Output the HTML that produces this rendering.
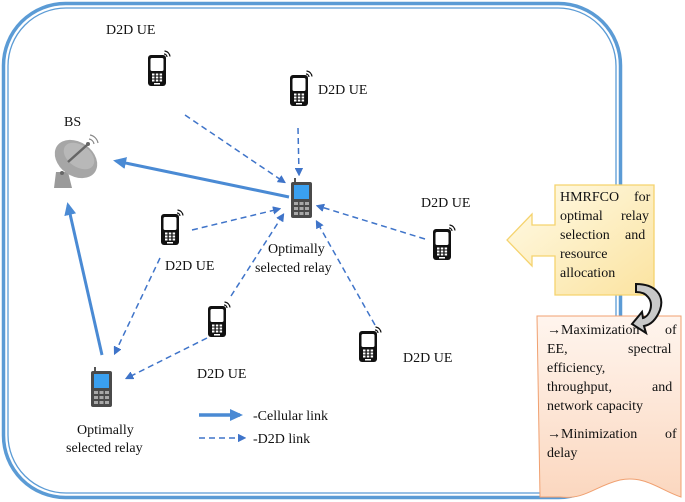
<!DOCTYPE html>
<html><head><meta charset="utf-8"><style>
html,body{margin:0;padding:0;background:#fff}
svg{display:block}
text{font-family:"Liberation Serif",serif;fill:#111}
</style></head><body>
<svg width="685" height="502" viewBox="0 0 685 502" xmlns="http://www.w3.org/2000/svg">
<defs>
<marker id="ad" markerWidth="8" markerHeight="8" refX="6" refY="4" orient="auto" markerUnits="userSpaceOnUse"><path d="M0,0 L8,4 L0,8 Z" fill="#3f74c9" transform="scale(1.2) translate(-1,-0.7)"/></marker>
<marker id="as" markerWidth="14" markerHeight="14" refX="10" refY="7" orient="auto" markerUnits="userSpaceOnUse"><path d="M0,1 L13,7 L0,13 Z" fill="#4a8ad4"/></marker>
<g id="ph">
<rect x="0" y="3" width="18" height="31" rx="3" fill="#111"/>
<rect x="2.5" y="6" width="13" height="13" rx="1.5" fill="#fff"/>
<g fill="#fff"><rect x="4" y="21.5" width="2.5" height="2"/><rect x="7.8" y="21.5" width="2.5" height="2"/><rect x="11.6" y="21.5" width="2.5" height="2"/>
<rect x="4" y="24.5" width="2.5" height="2"/><rect x="7.8" y="24.5" width="2.5" height="2"/><rect x="11.6" y="24.5" width="2.5" height="2"/>
<rect x="4" y="27.5" width="2.5" height="2"/><rect x="7.8" y="27.5" width="2.5" height="2"/><rect x="11.6" y="27.5" width="2.5" height="2"/>
<rect x="6" y="31" width="6" height="1.5"/></g>
<path d="M16,2 A3,3 0 0 1 19,5 M16.5,-1 A6,6 0 0 1 22,4.5" stroke="#111" stroke-width="1.2" fill="none"/>
</g>
<g id="rl">
<rect x="3" y="-3" width="2" height="5" fill="#555"/>
<rect x="0" y="1" width="21" height="36" rx="2" fill="#4a4a4a"/>
<rect x="3" y="4" width="15" height="14" fill="#3aa0f0"/>
<g fill="#a8a8a8"><rect x="3" y="21" width="4" height="3"/><rect x="8.5" y="21" width="4" height="3"/><rect x="14" y="21" width="4" height="3"/>
<rect x="3" y="26" width="4" height="3"/><rect x="8.5" y="26" width="4" height="3"/><rect x="14" y="26" width="4" height="3"/>
<rect x="3" y="31" width="4" height="3"/><rect x="8.5" y="31" width="4" height="3"/><rect x="14" y="31" width="4" height="3"/></g>
</g>
<linearGradient id="yg" x1="0" y1="0" x2="1" y2="1"><stop offset="0" stop-color="#fffbe8"/><stop offset="1" stop-color="#fbe3a0"/></linearGradient>
<linearGradient id="og" x1="0" y1="0" x2="0" y2="1"><stop offset="0" stop-color="#fff5ee"/><stop offset="1" stop-color="#fbd7bf"/></linearGradient>
</defs>
<!-- frame -->
<rect x="3.5" y="3.5" width="617" height="494" rx="62" fill="none" stroke="#5b9bd5" stroke-width="3.5"/>
<rect x="8" y="8" width="608" height="485" rx="58" fill="none" stroke="#5b9bd5" stroke-width="1.3"/>

<!-- solid links -->
<line x1="289" y1="197" x2="116" y2="161" stroke="#4a8ad4" stroke-width="3" marker-end="url(#as)"/>
<line x1="102" y1="355" x2="68" y2="205" stroke="#4a8ad4" stroke-width="3" marker-end="url(#as)"/>
<!-- dashed links -->
<g stroke="#3f74c9" stroke-width="1.5" stroke-dasharray="6,4" fill="none">
<line x1="185" y1="115" x2="284" y2="182" marker-end="url(#ad)"/>
<line x1="298" y1="128" x2="299" y2="174" marker-end="url(#ad)"/>
<line x1="192" y1="230" x2="279" y2="209" marker-end="url(#ad)"/>
<line x1="425" y1="239" x2="318" y2="206" marker-end="url(#ad)"/>
<line x1="375" y1="325" x2="317" y2="222" marker-end="url(#ad)"/>
<line x1="231" y1="296" x2="283" y2="215" marker-end="url(#ad)"/>
<line x1="160" y1="258" x2="115" y2="353" marker-end="url(#ad)"/>
<line x1="207" y1="338" x2="127" y2="378" marker-end="url(#ad)"/>
<line x1="199" y1="438" x2="244" y2="438" marker-end="url(#ad)"/>
</g>
<line x1="199" y1="415" x2="240" y2="415" stroke="#4a8ad4" stroke-width="3.5" marker-end="url(#as)"/>

<!-- BS dish -->
<g>
<path d="M56,172 L54,188 L72,188 L68,172 Z" fill="#9a9a9a"/>
<ellipse cx="76" cy="159" rx="23" ry="17" transform="rotate(35 76 159)" fill="#a6a6a6"/>
<ellipse cx="79" cy="156" rx="17" ry="11" transform="rotate(35 79 156)" fill="#b8b8b8"/>
<circle cx="62" cy="173" r="2" fill="#666"/>
<line x1="68" y1="162" x2="87" y2="145" stroke="#666" stroke-width="2.5"/>
<circle cx="88" cy="144" r="2" fill="#666"/>
<path d="M89,139 A6,6 0 0 1 94,144 M90,135 A10,10 0 0 1 98,143" stroke="#888" stroke-width="1.2" fill="none"/>
</g>

<!-- phones -->
<use href="#ph" x="148" y="52"/>
<use href="#ph" x="290" y="72"/>
<use href="#ph" x="161" y="211"/>
<use href="#ph" x="433" y="226"/>
<use href="#ph" x="208" y="303"/>
<use href="#ph" x="359" y="328"/>
<use href="#rl" x="291" y="181"/>
<use href="#rl" x="91" y="370"/>

<!-- labels -->
<g font-size="14">
<text x="106" y="34">D2D UE</text>
<text x="318" y="94">D2D UE</text>
<text x="64" y="126">BS</text>
<text x="165" y="270">D2D UE</text>
<text x="421" y="207">D2D UE</text>
<text x="197" y="378">D2D UE</text>
<text x="403" y="362">D2D UE</text>
<text x="268" y="253">Optimally</text>
<text x="255" y="272">selected relay</text>
<text x="77" y="434">Optimally</text>
<text x="66" y="452">selected relay</text>
<text x="253" y="420">-Cellular link</text>
<text x="253" y="443">-D2D link</text>
</g>

<!-- yellow callout -->
<path d="M555,185 L654,185 L654,295 L555,295 L555,256 L532,256 L532,266 L507,240 L532,214 L532,225 L555,225 Z" fill="url(#yg)" stroke="#f5d36e" stroke-width="1.3"/>
<!-- orange doc -->
<path d="M537,316 L681,316 L681,497 C660,490 645,475 620,480 C595,486 585,500 560,497 L540,497 Z" fill="url(#og)" stroke="#f0a070" stroke-width="1"/>
<!-- curved arrow -->
<path d="M636,284 C655,284 665,295 660,310 C656,320 650,325 644,326 L646,333 L632,324 L642,312 L643,318 C650,316 654,304 648,297 C645,293 640,292 636,292 Z" fill="#c8c8c8" stroke="#111" stroke-width="2"/>

<g font-size="14">
<text x="560" y="201">HMRFCO<tspan x="634">for</tspan></text>
<text x="560" y="220">optimal<tspan x="621">relay</tspan></text>
<text x="560" y="239">selection<tspan x="625">and</tspan></text>
<text x="560" y="258">resource</text>
<text x="560" y="277">allocation</text>
<text x="547" y="334">→Maximization<tspan x="665">of</tspan></text>
<text x="547" y="353">EE,<tspan x="628">spectral</tspan></text>
<text x="547" y="372">efficiency,</text>
<text x="547" y="391">throughput,<tspan x="652">and</tspan></text>
<text x="547" y="410">network capacity</text>
<text x="547" y="438">→Minimization<tspan x="665">of</tspan></text>
<text x="547" y="457">delay</text>
</g>
</svg>
</body></html>
